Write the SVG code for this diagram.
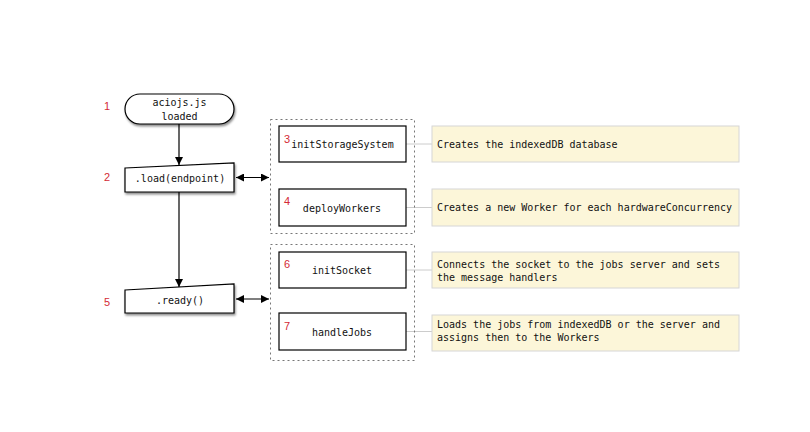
<svg xmlns="http://www.w3.org/2000/svg" width="810" height="432" viewBox="0 0 810 432">
<defs>
<marker id="ah" viewBox="0 0 10 10" refX="10" refY="5" markerWidth="8" markerHeight="8" markerUnits="userSpaceOnUse" orient="auto-start-reverse">
<path d="M0,0 L10,5 L0,10 z" fill="#000"/>
</marker>
<filter id="sh" x="-10%" y="-20%" width="125%" height="160%">
<feDropShadow dx="1" dy="2" stdDeviation="1.3" flood-color="#000" flood-opacity="0.45"/>
</filter>
<style>
.nd{fill:#fff;stroke:#000;stroke-width:1.2}
.bx{fill:#fff;stroke:#000;stroke-width:1.2}
.grp{fill:none;stroke:#777;stroke-width:1;stroke-dasharray:2,3}
.note{fill:#fcf6d9;stroke:#d6d6d6;stroke-width:1}
.t{font-family:"DejaVu Sans Mono","Liberation Mono",monospace;font-size:10px;fill:#111}
.tc{text-anchor:middle}
.num{font-family:"Liberation Sans",Arial,sans-serif;font-size:11px;fill:#d42a35}
.cn{stroke:#000;stroke-width:1.2;fill:none}
.nl{stroke:#ccc;stroke-width:1;fill:none}
</style>
</defs>
<rect width="810" height="432" fill="#fff"/>

<g id="connectors">
<line class="cn" x1="179" y1="124" x2="179" y2="165" marker-end="url(#ah)"/>
<line class="cn" x1="179" y1="192" x2="179" y2="287" marker-end="url(#ah)"/>
<line class="cn" x1="236" y1="177.5" x2="269" y2="177.5" marker-start="url(#ah)" marker-end="url(#ah)"/>
<line class="cn" x1="236" y1="299" x2="269" y2="299" marker-start="url(#ah)" marker-end="url(#ah)"/>
<line class="nl" x1="406" y1="144" x2="432" y2="144"/>
<line class="nl" x1="406" y1="207.5" x2="432" y2="207.5"/>
<line class="nl" x1="406" y1="270" x2="432" y2="270"/>
<line class="nl" x1="406" y1="331.5" x2="432" y2="331.5"/>
</g>

<g id="groups">
<rect class="grp" x="270.5" y="119.5" width="144" height="114"/>
<rect class="grp" x="270.5" y="244.5" width="144" height="116"/>
</g>

<g id="n1">
<rect class="nd" x="125" y="94" width="109" height="30" rx="15" ry="15" filter="url(#sh)"/>
<text class="t tc" x="179.5" y="106">aciojs.js</text>
<text class="t tc" x="179.5" y="120">loaded</text>
<text class="num" x="104" y="110">1</text>
</g>

<g id="n2">
<path class="nd" d="M125,168 L234,163 L234,192 L125,192 Z" filter="url(#sh)"/>
<text class="t tc" x="180" y="181.5">.load(endpoint)</text>
<text class="num" x="104" y="181">2</text>
</g>

<g id="n5">
<path class="nd" d="M125,290 L234,284 L234,313 L125,313 Z" filter="url(#sh)"/>
<text class="t tc" x="180" y="304">.ready()</text>
<text class="num" x="104" y="306">5</text>
</g>

<g id="n3">
<rect class="bx" x="279" y="126" width="127" height="36"/>
<text class="t tc" x="342.5" y="148">initStorageSystem</text>
<text class="num" x="284" y="143">3</text>
</g>

<g id="n4">
<rect class="bx" x="279" y="189" width="127" height="37"/>
<text class="t tc" x="342" y="211.5">deployWorkers</text>
<text class="num" x="284" y="205">4</text>
</g>

<g id="n6">
<rect class="bx" x="279" y="252" width="127" height="36"/>
<text class="t tc" x="342" y="273.5">initSocket</text>
<text class="num" x="284" y="268">6</text>
</g>

<g id="n7">
<rect class="bx" x="279" y="313" width="127" height="37"/>
<text class="t tc" x="342" y="335.5">handleJobs</text>
<text class="num" x="284" y="330">7</text>
</g>

<g id="note3">
<rect class="note" x="432" y="126" width="307" height="36"/>
<text class="t" x="437" y="148">Creates the indexedDB database</text>
</g>
<g id="note4">
<rect class="note" x="432" y="189" width="307" height="37"/>
<text class="t" x="437" y="211">Creates a new Worker for each hardwareConcurrency</text>
</g>
<g id="note6">
<rect class="note" x="432" y="252" width="307" height="36"/>
<text class="t" x="437" y="267.5">Connects the socket to the jobs server and sets</text>
<text class="t" x="437" y="280.5">the message handlers</text>
</g>
<g id="note7">
<rect class="note" x="432" y="315" width="307" height="36"/>
<text class="t" x="437" y="327.5">Loads the jobs from indexedDB or the server and</text>
<text class="t" x="437" y="340.5">assigns then to the Workers</text>
</g>
</svg>
